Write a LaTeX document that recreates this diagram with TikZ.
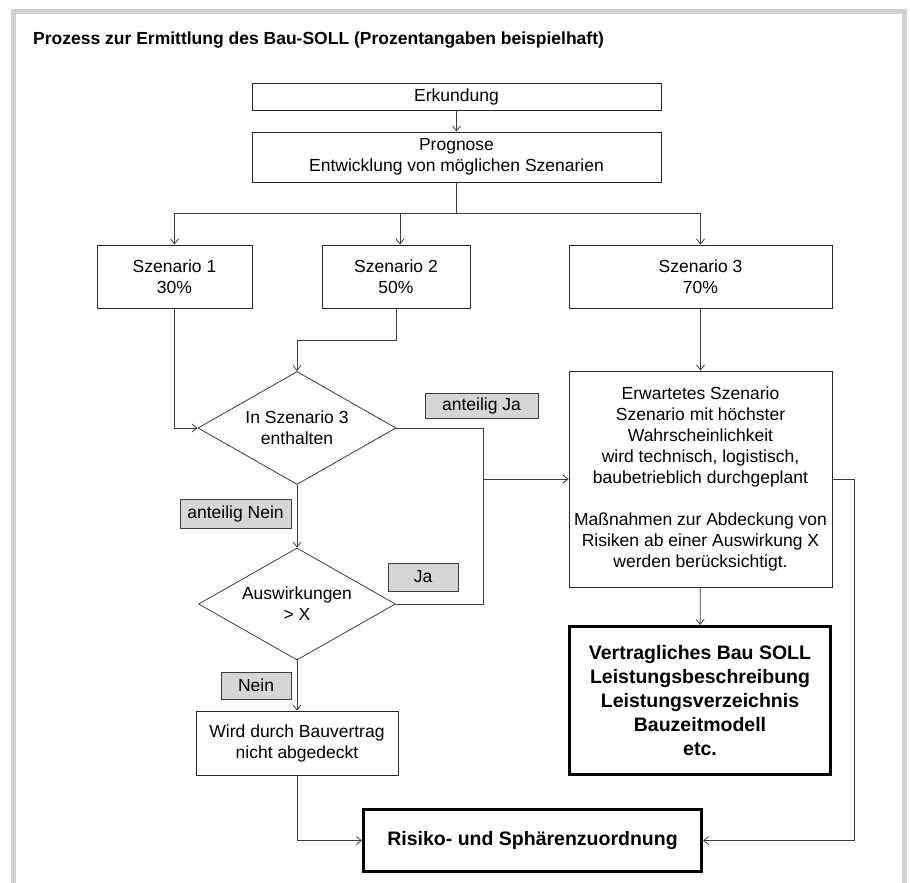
\documentclass[tikz,border=0pt]{standalone}
\usepackage{fontspec}
\setmainfont{Liberation Sans}
\usetikzlibrary{shapes.geometric,arrows.meta}

\definecolor{rahmengrau}{RGB}{208,208,208}
\definecolor{liniengrau}{RGB}{60,60,60}
\definecolor{markegrau}{RGB}{214,214,214}

\begin{document}
\begin{tikzpicture}[%
    x=1pt, y=-1pt,
    every node/.style={font=\fontsize{17.5}{21}\selectfont, align=center, inner sep=0pt},
    kasten/.style={draw=black!85, line width=0.9pt},
    dickkasten/.style={draw=black, line width=3pt, font=\fontsize{19.5}{24}\selectfont\bfseries},
    raute/.style={diamond, draw=liniengrau, line width=0.8pt, aspect=1.75},
    marke/.style={draw=liniengrau, fill=markegrau, line width=0.8pt},
    linie/.style={draw=liniengrau, line width=0.8pt},
    pfeil/.style={linie, -{Straight Barb[length=5pt,width=8pt]}}
]
    \useasboundingbox (0,0) rectangle (910,883);
    \draw[line width=5pt, rahmengrau] (13.5,895) -- (13.5,11.5) -- (904.5,11.5) -- (904.5,895);

    \node[anchor=west, font=\fontsize{17.5}{21}\selectfont\bfseries] (titel) at (33,40)
        {Prozess zur Ermittlung des Bau-SOLL (Prozentangaben beispielhaft)};

    % Ablauf oben
    \node[kasten, minimum width=409pt, minimum height=27pt] (erkundung) at (456.5,96.5) {Erkundung};
    \node[kasten, minimum width=409pt, minimum height=50pt] (prognose) at (456.5,157)
        {Prognose\\Entwicklung von möglichen Szenarien};
    \node[kasten, minimum width=155pt, minimum height=63pt] (szen1) at (174.5,276.5) {Szenario 1\\30\%};
    \node[kasten, minimum width=148pt, minimum height=63pt] (szen2) at (396,276.5) {Szenario 2\\50\%};
    \node[kasten, minimum width=263pt, minimum height=63pt] (szen3) at (700.5,276.5) {Szenario 3\\70\%};

    % Entscheidungen links
    \node[raute, minimum width=198pt, minimum height=113pt] (frage1) at (297,428) {In Szenario 3\\enthalten};
    \node[raute, minimum width=197pt, minimum height=112pt] (frage2) at (297,604) {Auswirkungen\\> X};
    \node[kasten, minimum width=202pt, minimum height=64pt] (wird) at (297,743)
        {Wird durch Bauvertrag\\nicht abgedeckt};

    % rechte Seite
    \node[kasten, minimum width=263pt, minimum height=216pt] (erwartet) at (700.5,479)
        {Erwartetes Szenario\\Szenario mit höchster\\Wahrscheinlichkeit\\wird technisch, logistisch,\\baubetrieblich durchgeplant\\[21pt]Maßnahmen zur Abdeckung von\\Risiken ab einer Auswirkung X\\werden berücksichtigt.};
    \node[dickkasten, minimum width=261pt, minimum height=148pt] (vertrag) at (700,700.5)
        {Vertragliches Bau SOLL\\Leistungsbeschreibung\\Leistungsverzeichnis\\Bauzeitmodell\\etc.};
    \node[dickkasten, minimum width=338pt, minimum height=62pt] (risiko) at (532.5,840.5)
        {Risiko- und Sphärenzuordnung};

    % Marken
    \node[marke, minimum width=113pt, minimum height=25pt] (anteiligja) at (481.5,405.5) {anteilig Ja};
    \node[marke, minimum width=111pt, minimum height=29pt] (anteilignein) at (235.5,513.5) {anteilig Nein};
    \node[marke, minimum width=70pt, minimum height=28pt] (ja) at (423,577) {Ja};
    \node[marke, minimum width=70pt, minimum height=27pt] (nein) at (256,685.5) {Nein};

    \coordinate (verteiler) at (456.5,213);
    \coordinate (sammler) at (483,479);

    \draw[pfeil] (erkundung) -- (prognose);
    \draw[linie] (prognose) -- (verteiler);
    \draw[pfeil] (verteiler) -| (szen1.north);
    \draw[pfeil] (verteiler) -| ([xshift=4pt]szen2.north);
    \draw[pfeil] (verteiler) -| (szen3.north);
    \draw[pfeil] (szen1.south) |- (frage1.west);
    \draw[pfeil] (szen2.south) -- ++(0,32) -| (frage1.north);
    \draw[pfeil] (szen3) -- (erwartet);
    \draw[pfeil] (frage1) -- (frage2);
    \draw[pfeil] (frage2) -- (wird);
    \draw[linie] (frage1.east) -| (sammler);
    \draw[linie] (frage2.east) -| (sammler);
    \draw[pfeil] (sammler) -- (erwartet.west);
    \draw[pfeil] (erwartet) -- (vertrag);
    \draw[pfeil] (wird.south) |- (risiko.west);
    \draw[pfeil] (erwartet.east) -- ++(22,0) |- (risiko.east);
\end{tikzpicture}
\end{document}
